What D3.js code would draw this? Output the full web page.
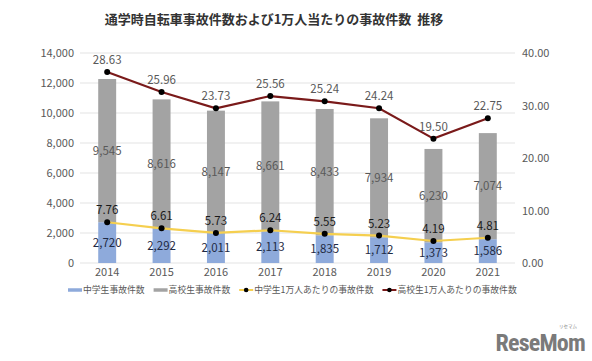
<!DOCTYPE html>
<html>
<head>
<meta charset="utf-8">
<script src="https://cdn.jsdelivr.net/npm/d3@7"></script>
<style>
  body { margin: 0; background: #fff; }
  text { font-family: "Noto Sans CJK JP", "Noto Sans", sans-serif; }
</style>
</head>
<body>
<div id="chart"></div>
<script>
// --------------------------------------
//  Data
// --------------------------------------

const years = ["2014", "2015", "2016", "2017", "2018", "2019", "2020", "2021"];
const juniorCounts = [2720, 2292, 2011, 2113, 1835, 1712, 1373, 1586];
const highCounts = [9545, 8616, 8147, 8661, 8433, 7934, 6230, 7074];
const juniorRate = [7.76, 6.61, 5.73, 6.24, 5.55, 5.23, 4.19, 4.81];
const highRate = [28.63, 25.96, 23.73, 25.56, 25.24, 24.24, 19.50, 22.75];
const leftTicks = [0, 2000, 4000, 6000, 8000, 10000, 12000, 14000];
const rightTicks = [0, 10, 20, 30, 40];
const legendNames = ["中学生事故件数", "高校生事故件数", "中学生1万人あたりの事故件数", "高校生1万人あたりの事故件数"];

// --------------------------------------
//  Margin and canvas
// --------------------------------------

const width = 592;
const height = 361;
const margin = {top: 53, right: 77, bottom: 98, left: 80};
const innerwidth = width - margin.left - margin.right;
const innerheight = height - margin.top - margin.bottom;

const svg = d3.select("#chart")
  .append("svg")
    .attr("width", width)
    .attr("height", height);

const innerChart = svg.append("g")
    .attr("transform", `translate(${margin.left}, ${margin.top})`);

const rows = years.map((y, i) => ({
  year: y,
  junior: juniorCounts[i],
  high: highCounts[i],
  jRate: juniorRate[i],
  hRate: highRate[i]
}));

const barStack = d3.stack().keys(["junior", "high"])(rows);
const rateStack = d3.stack().keys(["jRate", "hRate"])(rows);

// --------------------------------------
//  Scales
// --------------------------------------

const x = d3.scaleBand()
    .domain(years)
    .range([0, innerwidth])
    .paddingInner(0.67)
    .paddingOuter(0.335);

const xc = d => x(d) + x.bandwidth() / 2;

const y = d3.scaleLinear().domain([0, 14000]).range([innerheight, 0]);
const y2 = d3.scaleLinear().domain([0, 40]).range([innerheight, 0]);

// --------------------------------------
//  Title
// --------------------------------------

svg.append("text")
    .attr("x", 274)
    .attr("y", 24)
    .attr("text-anchor", "middle")
    .attr("font-size", 13)
    .attr("font-weight", "bold")
    .attr("fill", "#333")
    .style("white-space", "pre")
    .text("通学時自転車事故件数および1万人当たりの事故件数\u00a0\u00a0推移");

// --------------------------------------
//  Axes
// --------------------------------------

innerChart.append("g")
    .selectAll("line")
    .data(leftTicks)
    .join("line")
      .attr("x1", 0)
      .attr("x2", innerwidth)
      .attr("y1", d => y(d))
      .attr("y2", d => y(d))
      .attr("stroke", "#e3e3e3")
      .attr("stroke-width", 1);

const leftAxis = innerChart.append("g")
    .call(d3.axisLeft(y)
      .tickValues(leftTicks)
      .tickSize(0)
      .tickPadding(6)
      .tickFormat(d3.format(",")));

const rightAxis = innerChart.append("g")
    .attr("transform", `translate(${innerwidth}, 0)`)
    .call(d3.axisRight(y2)
      .tickValues(rightTicks)
      .tickSize(0)
      .tickPadding(7)
      .tickFormat(d3.format(".2f")));

const bottomAxis = innerChart.append("g")
    .attr("transform", `translate(0, ${innerheight})`)
    .call(d3.axisBottom(x).tickSize(0).tickPadding(5));

[leftAxis, rightAxis, bottomAxis].forEach(a => {
  a.select(".domain").remove();
  a.selectAll("text")
    .attr("font-size", 11)
    .attr("fill", "#595959")
    .style("font-family", "'Noto Sans CJK JP', 'Noto Sans', sans-serif");
});

// --------------------------------------
//  Bars
// --------------------------------------

const barColors = ["#8eaadb", "#a3a3a3"];

innerChart.append("g")
  .selectAll("g")
  .data(barStack)
  .join("g")
    .attr("fill", (d, i) => barColors[i])
  .selectAll("rect")
  .data(d => d)
  .join("rect")
    .attr("x", d => x(d.data.year))
    .attr("width", x.bandwidth())
    .attr("y", d => y(d[1]))
    .attr("height", d => y(d[0]) - y(d[1]));

const labelColors = ["#1f2a44", "#595959"];

innerChart.append("g")
  .selectAll("g")
  .data(barStack)
  .join("g")
    .attr("fill", (d, i) => labelColors[i])
  .selectAll("text")
  .data(d => d)
  .join("text")
    .attr("x", d => xc(d.data.year))
    .attr("y", d => (y(d[0]) + y(d[1])) / 2)
    .attr("dy", "0.35em")
    .attr("text-anchor", "middle")
    .attr("font-size", 11.5)
    .text(d => d3.format(",")(d[1] - d[0]));

// --------------------------------------
//  Lines
// --------------------------------------

const lineColors = ["#f5cf4f", "#7a1a1a"];
const lineLabelColors = ["#1a1a1a", "#595959"];

const line = d3.line()
    .x(d => xc(d.data.year))
    .y(d => y2(d[1]));

rateStack.forEach((s, k) => {
  innerChart.append("path")
      .datum(s)
      .attr("fill", "none")
      .attr("stroke", lineColors[k])
      .attr("stroke-width", 2.2)
      .attr("d", line);

  innerChart.append("g")
    .selectAll("circle")
    .data(s)
    .join("circle")
      .attr("cx", d => xc(d.data.year))
      .attr("cy", d => y2(d[1]))
      .attr("r", 3)
      .attr("fill", "#000");

  innerChart.append("g")
    .selectAll("text")
    .data(s)
    .join("text")
      .attr("x", d => xc(d.data.year))
      .attr("y", d => y2(d[1]) - 8)
      .attr("text-anchor", "middle")
      .attr("font-size", 11.5)
      .attr("fill", lineLabelColors[k])
      .text(d => d3.format(".2f")(d[1] - d[0]));
});

// --------------------------------------
//  Legend
// --------------------------------------

const legend = svg.append("g").attr("transform", "translate(68, 290)");
let lx = 0;
legendNames.forEach((name, i) => {
  const g = legend.append("g").attr("transform", `translate(${lx}, 0)`);
  if (i < 2) {
    g.append("line")
        .attr("x1", 0).attr("x2", 14)
        .attr("stroke", barColors[i])
        .attr("stroke-width", 3.5);
  } else {
    g.append("line")
        .attr("x1", 0).attr("x2", 14)
        .attr("stroke", lineColors[i - 2])
        .attr("stroke-width", 2);
    g.append("circle").attr("cx", 7).attr("r", 2.3).attr("fill", "#000");
  }
  const t = g.append("text")
      .attr("x", 15)
      .attr("dy", "0.35em")
      .attr("font-size", 8.8)
      .attr("fill", "#595959")
      .text(name);
  lx += 15 + t.node().getComputedTextLength() + 9;
});

// --------------------------------------
//  Logo
// --------------------------------------

svg.append("text")
    .attr("x", 585)
    .attr("y", 351)
    .attr("text-anchor", "end")
    .attr("font-size", 24)
    .attr("font-weight", "bold")
    .attr("fill", "#7a7a7a")
    .attr("letter-spacing", -0.8)
    .style("font-family", "'Roboto Condensed', 'Liberation Sans Narrow', 'Roboto', sans-serif")
    .text("ReseMom");
svg.append("text")
    .attr("x", 568)
    .attr("y", 328)
    .attr("text-anchor", "middle")
    .attr("font-size", 4.5)
    .attr("fill", "#888")
    .text("リセマム");
</script>
</body>
</html>
